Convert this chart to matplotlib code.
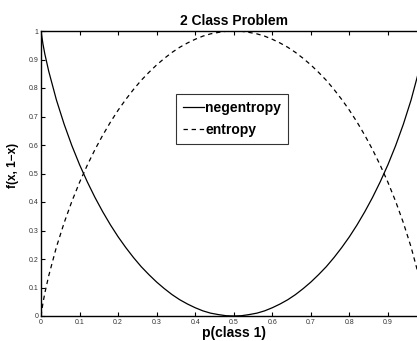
import matplotlib
matplotlib.use("Agg")
import matplotlib.pyplot as plt

p = [0, 0.005, 0.01, 0.02, 0.04, 0.06, 0.08, 0.10, 0.12, 0.14, 0.16, 0.18, 0.20,
     0.22, 0.24, 0.26, 0.28, 0.30, 0.32, 0.34, 0.36, 0.38, 0.40, 0.42, 0.44,
     0.46, 0.48, 0.50, 0.52, 0.54, 0.56, 0.58, 0.60, 0.62, 0.64, 0.66, 0.68,
     0.70, 0.72, 0.74, 0.76, 0.78, 0.80, 0.82, 0.84, 0.86, 0.88, 0.90, 0.92,
     0.94, 0.96, 0.98, 0.99, 0.995, 1.0]
entropy = [0, 0.045, 0.081, 0.141, 0.242, 0.327, 0.402, 0.469, 0.529, 0.584,
           0.634, 0.680, 0.722, 0.760, 0.795, 0.827, 0.855, 0.881, 0.904, 0.925,
           0.943, 0.958, 0.971, 0.982, 0.990, 0.995, 0.999, 1.0, 0.999, 0.995,
           0.990, 0.982, 0.971, 0.958, 0.943, 0.925, 0.904, 0.881, 0.855, 0.827,
           0.795, 0.760, 0.722, 0.680, 0.634, 0.584, 0.529, 0.469, 0.402, 0.327,
           0.242, 0.141, 0.081, 0.045, 0]
negentropy = [1.0, 0.955, 0.919, 0.859, 0.758, 0.673, 0.598, 0.531, 0.471, 0.416,
              0.366, 0.320, 0.278, 0.240, 0.205, 0.173, 0.145, 0.119, 0.096, 0.075,
              0.057, 0.042, 0.029, 0.018, 0.010, 0.005, 0.001, 0.0, 0.001, 0.005,
              0.010, 0.018, 0.029, 0.042, 0.057, 0.075, 0.096, 0.119, 0.145, 0.173,
              0.205, 0.240, 0.278, 0.320, 0.366, 0.416, 0.471, 0.531, 0.598, 0.673,
              0.758, 0.859, 0.919, 0.955, 1.0]
xticks = [0, 0.1, 0.2, 0.3, 0.4, 0.5, 0.6, 0.7, 0.8, 0.9, 1.0]
xticklabels = ["0", "0.1", "0.2", "0.3", "0.4", "0.5", "0.6", "0.7", "0.8", "0.9", ""]
yticks = [0, 0.1, 0.2, 0.3, 0.4, 0.5, 0.6, 0.7, 0.8, 0.9, 1.0]
yticklabels = ["0", "0.1", "0.2", "0.3", "0.4", "0.5", "0.6", "0.7", "0.8", "0.9", "1"]

plt.rcParams['font.family'] = ['Liberation Sans', 'DejaVu Sans']

fig = plt.figure(figsize=(4.17, 3.41), dpi=100)
ax = fig.add_axes([41/417, 25/341, 385.5/417, 285/341])
ax.plot(p, negentropy, color='black', lw=0.9, label='negentropy')
ax.plot(p, entropy, color='black', lw=0.9, ls=(0, (3.5, 3)), label='entropy')
ax.set_xlim(0, 1)
ax.set_ylim(0, 1)
ax.set_xticks(xticks)
ax.set_xticklabels(xticklabels)
ax.set_yticks(yticks)
ax.set_yticklabels(yticklabels)
ax.tick_params(direction='in', length=3, width=0.8, labelsize=5, pad=2,
               top=True, right=True, colors='black', labelcolor='#333333')
for s in ax.spines.values():
    s.set_linewidth(1.0)
ax.set_title('2 Class Problem', fontsize=10, fontweight='bold', pad=4)
ax.set_xlabel('p(class 1)', fontsize=10, fontweight='bold', labelpad=0.3)
ax.set_ylabel('f(x, 1\u2212x)', fontsize=8.5, fontweight='bold')
ax.yaxis.set_label_coords(-(41-19)/385.5, (316-165)/285)
leg = ax.legend(loc='upper left', bbox_to_anchor=((176-41)/385.5, (316-94)/285),
                frameon=True, fancybox=False, edgecolor='black',
                prop={'size': 10, 'weight': 'bold'}, handlelength=1.5,
                handletextpad=0.1, borderpad=0.5, labelspacing=0.55,
                borderaxespad=0)
leg.get_frame().set_linewidth(0.8)
fig.savefig('out.png', dpi=100)
